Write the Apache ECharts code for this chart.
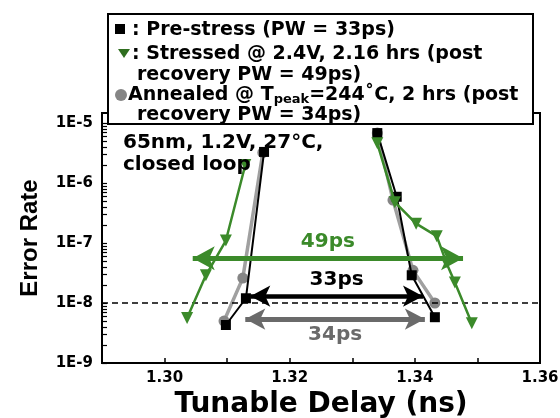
<!DOCTYPE html>
<html>
<head>
<meta charset="utf-8">
<script src="https://cdn.jsdelivr.net/npm/echarts@6/dist/echarts.min.js"></script>
<style>html,body{margin:0;padding:0;background:#fff;}#c{width:560px;height:418px;}</style>
</head>
<body>
<div id="c"></div>
<script>
// ---- data (delay in ns, error rate) ----
const preStressDelay = [1.3159, 1.3130, 1.3098, null, 1.3340, 1.3371, 1.3395, 1.3432];
const preStressRate  = [3.3e-6, 1.2e-8, 4.3e-9, null, 6.8e-6, 5.9e-7, 2.9e-8, 5.8e-9];

const stressedDelay = [1.3129, 1.3098, 1.3066, 1.3036, null, 1.3340, 1.3368, 1.3402, 1.3435, 1.3450, 1.3464, 1.3491];
const stressedRate  = [2.0e-6, 1.1e-7, 2.9e-8, 5.6e-9, null, 4.6e-6, 4.8e-7, 2.1e-7, 1.3e-7, 4.8e-8, 2.2e-8, 4.6e-9];

const annealedDelay = [1.3157, 1.3125, 1.3095, null, 1.3340, 1.3365, 1.3397, 1.3432];
const annealedRate  = [3.2e-6, 2.6e-8, 5.0e-9, null, 6.8e-6, 5.2e-7, 3.5e-8, 1.0e-8];

// pulse-width arrows: [label, fromDelay, toDelay, errorRate]
const arrow49 = ['49ps', 1.3045, 1.3477, 5.6e-8];
const arrow33 = ['33ps', 1.3137, 1.3413, 1.3e-8];
const arrow34 = ['34ps', 1.3129, 1.3416, 5.4e-9];
const thresholdRate = 1e-8;

const xTickLabels = ['1.30', '1.32', '1.34', '1.36'];
const yTickExponents = [-9, -8, -7, -6, -5];
const yMin = 1e-9, yMax = 1.47e-5;

// ---- helpers ----
const L = v => Math.log10(v);
const toData = (xs, ys) => xs.map((x, i) => (x == null ? '-' : [x, L(ys[i])]));
const arrowLine = a => [[{ coord: [a[1], L(a[3])] }, { coord: [a[2], L(a[3])] }]];
const minorTicks = [];
for (let e = -9; e <= -5; e++) for (let k = 1; k <= 9; k++) {
  const v = L(k * Math.pow(10, e));
  if (v <= L(yMax)) minorTicks.push(v);
}
const FONT = '"DejaVu Sans", sans-serif';
const ARIAL = '"Liberation Sans", Arial, sans-serif';
const GREEN = '#3b8a2a', GRAY = '#858585', DKGRAY = '#6a6a6a';
const LF = 'bold 19px ' + FONT;

const chart = echarts.init(document.getElementById('c'), null, { renderer: 'canvas' });
chart.setOption({
  animation: false,
  backgroundColor: '#fff',
  grid: { left: 102, right: 20, top: 113, bottom: 55, outerBoundsMode: 'none', containLabel: false,
          show: true, borderColor: '#000', borderWidth: 2, backgroundColor: 'transparent' },
  xAxis: {
    type: 'value', min: 1.29, max: 1.36, interval: 0.01,
    name: 'Tunable Delay (ns)', nameLocation: 'middle', nameGap: 27,
    nameTextStyle: { fontFamily: FONT, fontWeight: 'bold', fontSize: 28, color: '#000' },
    axisLine: { lineStyle: { color: '#000', width: 2 } },
    axisTick: { inside: true, length: 5, lineStyle: { color: '#000', width: 1.5 } },
    axisLabel: {
      margin: 8, fontFamily: FONT, fontWeight: 'bold', fontSize: 15, color: '#000',
      formatter: v => { const s = v.toFixed(2); return xTickLabels.includes(s) ? s : ''; }
    },
    splitLine: { show: false }
  },
  yAxis: {
    type: 'value', min: L(yMin), max: L(yMax), interval: 1,
    name: 'Error Rate', nameLocation: 'middle', nameGap: 60, nameRotate: 90,
    nameTextStyle: { fontFamily: ARIAL, fontWeight: 'bold', fontSize: 24, color: '#000' },
    axisLine: { lineStyle: { color: '#000', width: 2 } },
    axisTick: { inside: true, length: 5, customValues: minorTicks, lineStyle: { color: '#000', width: 1.2 } },
    axisLabel: {
      margin: 9, fontFamily: FONT, fontWeight: 'bold', fontSize: 15, color: '#000',
      customValues: yTickExponents,
      formatter: v => { const r = Math.round(v); return Math.abs(v - r) < 1e-6 ? '1E' + r : ''; }
    },
    splitLine: { show: false }
  },
  series: [
    {
      name: 'Annealed', type: 'line', data: toData(annealedDelay, annealedRate),
      symbol: 'circle', symbolSize: 11, connectNulls: false, z: 3,
      lineStyle: { color: '#a0a0a0', width: 3.5 }, itemStyle: { color: GRAY },
      markLine: {
        silent: true, symbol: ['arrow', 'arrow'], symbolSize: [16, 20],
        lineStyle: { color: DKGRAY, width: 5, type: 'solid' },
        label: { show: true, position: 'insideMiddleBottom', formatter: arrow34[0], distance: 6,
          fontFamily: FONT, fontWeight: 'bold', fontSize: 20, color: DKGRAY },
        data: arrowLine(arrow34)
      }
    },
    {
      name: 'Pre-stress', type: 'line', data: toData(preStressDelay, preStressRate),
      symbol: 'rect', symbolSize: 10, connectNulls: false, z: 4,
      lineStyle: { color: '#000', width: 2 }, itemStyle: { color: '#000' },
      markLine: {
        silent: true, symbol: ['arrow', 'arrow'], symbolSize: [16, 20],
        lineStyle: { color: '#000', width: 4.5, type: 'solid' },
        label: { show: true, position: 'insideMiddleTop', formatter: arrow33[0], distance: 6,
          fontFamily: FONT, fontWeight: 'bold', fontSize: 20, color: '#000' },
        data: arrowLine(arrow33)
      }
    },
    {
      name: 'Stressed', type: 'line', data: toData(stressedDelay, stressedRate),
      symbol: 'triangle', symbolRotate: 180, symbolSize: 12, connectNulls: false, z: 5,
      lineStyle: { color: GREEN, width: 2.5 }, itemStyle: { color: GREEN },
      markLine: {
        silent: true, symbol: ['arrow', 'arrow'], symbolSize: [18, 22],
        lineStyle: { color: GREEN, width: 5, type: 'solid' },
        label: { show: true, position: 'insideMiddleTop', formatter: arrow49[0], distance: 6,
          fontFamily: FONT, fontWeight: 'bold', fontSize: 20, color: GREEN },
        data: arrowLine(arrow49)
      }
    },
    {
      name: 'threshold', type: 'line', data: [],
      markLine: {
        silent: true, symbol: ['none', 'none'], label: { show: false },
        lineStyle: { color: '#000', width: 1.5, type: [6, 4] },
        data: [{ yAxis: L(thresholdRate) }]
      }
    }
  ],
  graphic: [
    { type: 'text', z: 50, style: { text: '65nm, 1.2V, 27°C,\nclosed loop', x: 123, y: 132, font: 'bold 20px ' + FONT, fill: '#000', lineHeight: 22 } },
    {
      type: 'group', z: 100, children: [
        { type: 'rect', shape: { x: 108, y: 14, width: 425, height: 110 }, style: { fill: '#fff', stroke: '#000', lineWidth: 2 } },
        { type: 'rect', shape: { x: 115, y: 24, width: 10, height: 10 }, style: { fill: '#000' } },
        { type: 'text', style: { text: ': Pre-stress (PW = 33ps)', x: 132, y: 30, verticalAlign: 'middle', font: LF, fill: '#000' } },
        { type: 'polygon', shape: { points: [[118, 49], [130, 49], [124, 58]] }, style: { fill: '#2f6e1f' } },
        { type: 'text', style: { text: ': Stressed @ 2.4V, 2.16 hrs (post', x: 132, y: 54, verticalAlign: 'middle', font: LF, fill: '#000' } },
        { type: 'text', style: { text: 'recovery PW = 49ps)', x: 137, y: 75, verticalAlign: 'middle', font: LF, fill: '#000' } },
        { type: 'circle', shape: { cx: 121, cy: 95, r: 6 }, style: { fill: GRAY } },
        { type: 'text', style: {
            text: 'Annealed @ T{sub|peak}=244˚C, 2 hrs (post', x: 128, y: 95, verticalAlign: 'middle',
            font: LF, fill: '#000', lineHeight: 22,
            rich: { sub: { fontFamily: FONT, fontWeight: 'bold', fontSize: 13, lineHeight: 12, verticalAlign: 'bottom', fill: '#000' } }
        } },
        { type: 'text', style: { text: 'recovery PW = 34ps)', x: 137, y: 115, verticalAlign: 'middle', font: LF, fill: '#000' } }
      ]
    }
  ]
});
</script>
</body>
</html>
